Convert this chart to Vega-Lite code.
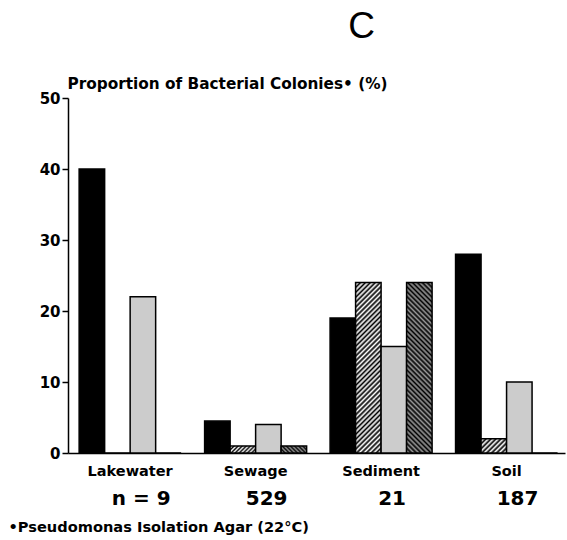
{
  "$schema": "https://vega.github.io/schema/vega-lite/v6.json",
  "width": 497,
  "height": 355,
  "autosize": "none",
  "padding": {"left": 68, "top": 98, "right": 2, "bottom": 87},
  "background": "white",
  "config": {"view": {"stroke": null}, "font": "DejaVu Sans"},
  "title": {"text": "C", "font": "Liberation Sans", "fontSize": 37, "fontWeight": "normal", "color": "black", "anchor": "middle", "dx": 45, "offset": 30},
  "datasets": {
    "bars": [
      {"habitat": "Lakewater", "series": "S1", "pct": 40},
      {"habitat": "Lakewater", "series": "S2", "pct": 0},
      {"habitat": "Lakewater", "series": "S3", "pct": 22},
      {"habitat": "Lakewater", "series": "S4", "pct": 0},
      {"habitat": "Sewage", "series": "S1", "pct": 4.5},
      {"habitat": "Sewage", "series": "S2", "pct": 1},
      {"habitat": "Sewage", "series": "S3", "pct": 4},
      {"habitat": "Sewage", "series": "S4", "pct": 1},
      {"habitat": "Sediment", "series": "S1", "pct": 19},
      {"habitat": "Sediment", "series": "S2", "pct": 24},
      {"habitat": "Sediment", "series": "S3", "pct": 15},
      {"habitat": "Sediment", "series": "S4", "pct": 24},
      {"habitat": "Soil", "series": "S1", "pct": 28},
      {"habitat": "Soil", "series": "S2", "pct": 2},
      {"habitat": "Soil", "series": "S3", "pct": 10},
      {"habitat": "Soil", "series": "S4", "pct": 0}
    ],
    "counts": [
      {"habitat": "Lakewater", "label": "n = 9"},
      {"habitat": "Sewage", "label": "529"},
      {"habitat": "Sediment", "label": "21"},
      {"habitat": "Soil", "label": "187"}
    ]
  },
  "layer": [
    {
      "data": {"name": "bars"},
      "mark": {"type": "bar", "stroke": "black", "strokeWidth": 1.5, "strokeJoin": "miter"},
      "encoding": {
        "x": {
          "field": "habitat", "type": "nominal",
          "scale": {"domain": ["Lakewater", "Sewage", "Sediment", "Soil"], "paddingInner": 0.187, "paddingOuter": 0.074, "align": 0.6},
          "axis": {
            "title": "•Pseudomonas Isolation Agar (22°C)",
            "titleFont": "DejaVu Sans", "titleFontSize": 14.6, "titleFontWeight": "bold", "titleColor": "black",
            "titleAnchor": "start", "titleAlign": "left", "titleBaseline": "alphabetic", "titleX": -60, "titleY": 78,
            "labelAngle": 0, "labelFontSize": 14.5, "labelFontWeight": "bold", "labelColor": "black", "labelPadding": 11,
            "ticks": false, "domainColor": "black", "domainWidth": 1.5
          }
        },
        "xOffset": {"field": "series", "type": "nominal", "scale": {"domain": ["S1", "S2", "S3", "S4"], "paddingInner": 0, "paddingOuter": 0}},
        "y": {
          "field": "pct", "type": "quantitative",
          "scale": {"domain": [0, 50], "nice": false},
          "axis": {
            "title": "Proportion of Bacterial Colonies• (%)",
            "titleFont": "DejaVu Sans", "titleFontSize": 15.3, "titleFontWeight": "bold", "titleColor": "black",
            "titleAngle": 0, "titleAlign": "left", "titleBaseline": "alphabetic", "titleX": -1, "titleY": -10,
            "values": [0, 10, 20, 30, 40, 50], "grid": false,
            "tickSize": 6, "tickWidth": 1.5, "tickColor": "black",
            "domainColor": "black", "domainWidth": 1.5,
            "labelFontSize": 15, "labelFontWeight": "bold", "labelColor": "black", "labelPadding": 2
          }
        },
        "fill": {
          "condition": [
            {"test": "datum.series === 'S3'", "value": "#cccccc"},
            {"test": "datum.series === 'S2' && datum.pct > 10", "value": {"gradient": "linear", "x1": 0, "y1": 0, "x2": 0.1683, "y2": 1.1245, "stops": [
              {"offset": 0, "color": "#000"}, {"offset": 0.0125, "color": "#fff"}, {"offset": 0.025, "color": "#000"}, {"offset": 0.0375, "color": "#fff"},
              {"offset": 0.05, "color": "#000"}, {"offset": 0.0625, "color": "#fff"}, {"offset": 0.075, "color": "#000"}, {"offset": 0.0875, "color": "#fff"},
              {"offset": 0.1, "color": "#000"}, {"offset": 0.1125, "color": "#fff"}, {"offset": 0.125, "color": "#000"}, {"offset": 0.1375, "color": "#fff"},
              {"offset": 0.15, "color": "#000"}, {"offset": 0.1625, "color": "#fff"}, {"offset": 0.175, "color": "#000"}, {"offset": 0.1875, "color": "#fff"},
              {"offset": 0.2, "color": "#000"}, {"offset": 0.2125, "color": "#fff"}, {"offset": 0.225, "color": "#000"}, {"offset": 0.2375, "color": "#fff"},
              {"offset": 0.25, "color": "#000"}, {"offset": 0.2625, "color": "#fff"}, {"offset": 0.275, "color": "#000"}, {"offset": 0.2875, "color": "#fff"},
              {"offset": 0.3, "color": "#000"}, {"offset": 0.3125, "color": "#fff"}, {"offset": 0.325, "color": "#000"}, {"offset": 0.3375, "color": "#fff"},
              {"offset": 0.35, "color": "#000"}, {"offset": 0.3625, "color": "#fff"}, {"offset": 0.375, "color": "#000"}, {"offset": 0.3875, "color": "#fff"},
              {"offset": 0.4, "color": "#000"}, {"offset": 0.4125, "color": "#fff"}, {"offset": 0.425, "color": "#000"}, {"offset": 0.4375, "color": "#fff"},
              {"offset": 0.45, "color": "#000"}, {"offset": 0.4625, "color": "#fff"}, {"offset": 0.475, "color": "#000"}, {"offset": 0.4875, "color": "#fff"},
              {"offset": 0.5, "color": "#000"}, {"offset": 0.5125, "color": "#fff"}, {"offset": 0.525, "color": "#000"}, {"offset": 0.5375, "color": "#fff"},
              {"offset": 0.55, "color": "#000"}, {"offset": 0.5625, "color": "#fff"}, {"offset": 0.575, "color": "#000"}, {"offset": 0.5875, "color": "#fff"},
              {"offset": 0.6, "color": "#000"}, {"offset": 0.6125, "color": "#fff"}, {"offset": 0.625, "color": "#000"}, {"offset": 0.6375, "color": "#fff"},
              {"offset": 0.65, "color": "#000"}, {"offset": 0.6625, "color": "#fff"}, {"offset": 0.675, "color": "#000"}, {"offset": 0.6875, "color": "#fff"},
              {"offset": 0.7, "color": "#000"}, {"offset": 0.7125, "color": "#fff"}, {"offset": 0.725, "color": "#000"}, {"offset": 0.7375, "color": "#fff"},
              {"offset": 0.75, "color": "#000"}, {"offset": 0.7625, "color": "#fff"}, {"offset": 0.775, "color": "#000"}, {"offset": 0.7875, "color": "#fff"},
              {"offset": 0.8, "color": "#000"}, {"offset": 0.8125, "color": "#fff"}, {"offset": 0.825, "color": "#000"}, {"offset": 0.8375, "color": "#fff"},
              {"offset": 0.85, "color": "#000"}, {"offset": 0.8625, "color": "#fff"}, {"offset": 0.875, "color": "#000"}, {"offset": 0.8875, "color": "#fff"},
              {"offset": 0.9, "color": "#000"}, {"offset": 0.9125, "color": "#fff"}, {"offset": 0.925, "color": "#000"}, {"offset": 0.9375, "color": "#fff"},
              {"offset": 0.95, "color": "#000"}, {"offset": 0.9625, "color": "#fff"}, {"offset": 0.975, "color": "#000"}, {"offset": 0.9875, "color": "#fff"},
              {"offset": 1, "color": "#000"}
            ]}},
            {"test": "datum.series === 'S4' && datum.pct > 10", "value": {"gradient": "linear", "x1": 0, "y1": 1, "x2": 0.1683, "y2": -0.1245, "stops": [
              {"offset": 0, "color": "#000"}, {"offset": 0.0125, "color": "#999"}, {"offset": 0.025, "color": "#000"}, {"offset": 0.0375, "color": "#999"},
              {"offset": 0.05, "color": "#000"}, {"offset": 0.0625, "color": "#999"}, {"offset": 0.075, "color": "#000"}, {"offset": 0.0875, "color": "#999"},
              {"offset": 0.1, "color": "#000"}, {"offset": 0.1125, "color": "#999"}, {"offset": 0.125, "color": "#000"}, {"offset": 0.1375, "color": "#999"},
              {"offset": 0.15, "color": "#000"}, {"offset": 0.1625, "color": "#999"}, {"offset": 0.175, "color": "#000"}, {"offset": 0.1875, "color": "#999"},
              {"offset": 0.2, "color": "#000"}, {"offset": 0.2125, "color": "#999"}, {"offset": 0.225, "color": "#000"}, {"offset": 0.2375, "color": "#999"},
              {"offset": 0.25, "color": "#000"}, {"offset": 0.2625, "color": "#999"}, {"offset": 0.275, "color": "#000"}, {"offset": 0.2875, "color": "#999"},
              {"offset": 0.3, "color": "#000"}, {"offset": 0.3125, "color": "#999"}, {"offset": 0.325, "color": "#000"}, {"offset": 0.3375, "color": "#999"},
              {"offset": 0.35, "color": "#000"}, {"offset": 0.3625, "color": "#999"}, {"offset": 0.375, "color": "#000"}, {"offset": 0.3875, "color": "#999"},
              {"offset": 0.4, "color": "#000"}, {"offset": 0.4125, "color": "#999"}, {"offset": 0.425, "color": "#000"}, {"offset": 0.4375, "color": "#999"},
              {"offset": 0.45, "color": "#000"}, {"offset": 0.4625, "color": "#999"}, {"offset": 0.475, "color": "#000"}, {"offset": 0.4875, "color": "#999"},
              {"offset": 0.5, "color": "#000"}, {"offset": 0.5125, "color": "#999"}, {"offset": 0.525, "color": "#000"}, {"offset": 0.5375, "color": "#999"},
              {"offset": 0.55, "color": "#000"}, {"offset": 0.5625, "color": "#999"}, {"offset": 0.575, "color": "#000"}, {"offset": 0.5875, "color": "#999"},
              {"offset": 0.6, "color": "#000"}, {"offset": 0.6125, "color": "#999"}, {"offset": 0.625, "color": "#000"}, {"offset": 0.6375, "color": "#999"},
              {"offset": 0.65, "color": "#000"}, {"offset": 0.6625, "color": "#999"}, {"offset": 0.675, "color": "#000"}, {"offset": 0.6875, "color": "#999"},
              {"offset": 0.7, "color": "#000"}, {"offset": 0.7125, "color": "#999"}, {"offset": 0.725, "color": "#000"}, {"offset": 0.7375, "color": "#999"},
              {"offset": 0.75, "color": "#000"}, {"offset": 0.7625, "color": "#999"}, {"offset": 0.775, "color": "#000"}, {"offset": 0.7875, "color": "#999"},
              {"offset": 0.8, "color": "#000"}, {"offset": 0.8125, "color": "#999"}, {"offset": 0.825, "color": "#000"}, {"offset": 0.8375, "color": "#999"},
              {"offset": 0.85, "color": "#000"}, {"offset": 0.8625, "color": "#999"}, {"offset": 0.875, "color": "#000"}, {"offset": 0.8875, "color": "#999"},
              {"offset": 0.9, "color": "#000"}, {"offset": 0.9125, "color": "#999"}, {"offset": 0.925, "color": "#000"}, {"offset": 0.9375, "color": "#999"},
              {"offset": 0.95, "color": "#000"}, {"offset": 0.9625, "color": "#999"}, {"offset": 0.975, "color": "#000"}, {"offset": 0.9875, "color": "#999"},
              {"offset": 1, "color": "#000"}
            ]}},
            {"test": "datum.series === 'S2' && datum.pct > 1.5", "value": {"gradient": "linear", "x1": 0, "y1": 0, "x2": 1.188, "y2": 0.662, "stops": [
              {"offset": 0, "color": "#000"}, {"offset": 0.0625, "color": "#fff"}, {"offset": 0.125, "color": "#000"}, {"offset": 0.1875, "color": "#fff"},
              {"offset": 0.25, "color": "#000"}, {"offset": 0.3125, "color": "#fff"}, {"offset": 0.375, "color": "#000"}, {"offset": 0.4375, "color": "#fff"},
              {"offset": 0.5, "color": "#000"}, {"offset": 0.5625, "color": "#fff"}, {"offset": 0.625, "color": "#000"}, {"offset": 0.6875, "color": "#fff"},
              {"offset": 0.75, "color": "#000"}, {"offset": 0.8125, "color": "#fff"}, {"offset": 0.875, "color": "#000"}, {"offset": 0.9375, "color": "#fff"},
              {"offset": 1, "color": "#000"}
            ]}},
            {"test": "datum.series === 'S2'", "value": {"gradient": "linear", "x1": 0, "y1": 0, "x2": 1.187, "y2": 0.3305, "stops": [
              {"offset": 0, "color": "#000"}, {"offset": 0.0625, "color": "#fff"}, {"offset": 0.125, "color": "#000"}, {"offset": 0.1875, "color": "#fff"},
              {"offset": 0.25, "color": "#000"}, {"offset": 0.3125, "color": "#fff"}, {"offset": 0.375, "color": "#000"}, {"offset": 0.4375, "color": "#fff"},
              {"offset": 0.5, "color": "#000"}, {"offset": 0.5625, "color": "#fff"}, {"offset": 0.625, "color": "#000"}, {"offset": 0.6875, "color": "#fff"},
              {"offset": 0.75, "color": "#000"}, {"offset": 0.8125, "color": "#fff"}, {"offset": 0.875, "color": "#000"}, {"offset": 0.9375, "color": "#fff"},
              {"offset": 1, "color": "#000"}
            ]}},
            {"test": "datum.series === 'S4'", "value": {"gradient": "linear", "x1": 0, "y1": 1, "x2": 1.187, "y2": 0.6695, "stops": [
              {"offset": 0, "color": "#000"}, {"offset": 0.0625, "color": "#999"}, {"offset": 0.125, "color": "#000"}, {"offset": 0.1875, "color": "#999"},
              {"offset": 0.25, "color": "#000"}, {"offset": 0.3125, "color": "#999"}, {"offset": 0.375, "color": "#000"}, {"offset": 0.4375, "color": "#999"},
              {"offset": 0.5, "color": "#000"}, {"offset": 0.5625, "color": "#999"}, {"offset": 0.625, "color": "#000"}, {"offset": 0.6875, "color": "#999"},
              {"offset": 0.75, "color": "#000"}, {"offset": 0.8125, "color": "#999"}, {"offset": 0.875, "color": "#000"}, {"offset": 0.9375, "color": "#999"},
              {"offset": 1, "color": "#000"}
            ]}}
          ],
          "value": "#000"
        }
      }
    },
    {
      "data": {"name": "counts"},
      "mark": {"type": "text", "font": "DejaVu Sans", "fontSize": 20, "fontWeight": "bold", "color": "black", "align": "center", "baseline": "alphabetic", "dx": 11, "dy": 52},
      "encoding": {
        "x": {"field": "habitat", "type": "nominal"},
        "y": {"datum": 0},
        "text": {"field": "label"}
      }
    },
    {
      "mark": {"type": "rule", "color": "black", "strokeWidth": 1.5},
      "encoding": {"y": {"datum": 50}}
    }
  ]
}
